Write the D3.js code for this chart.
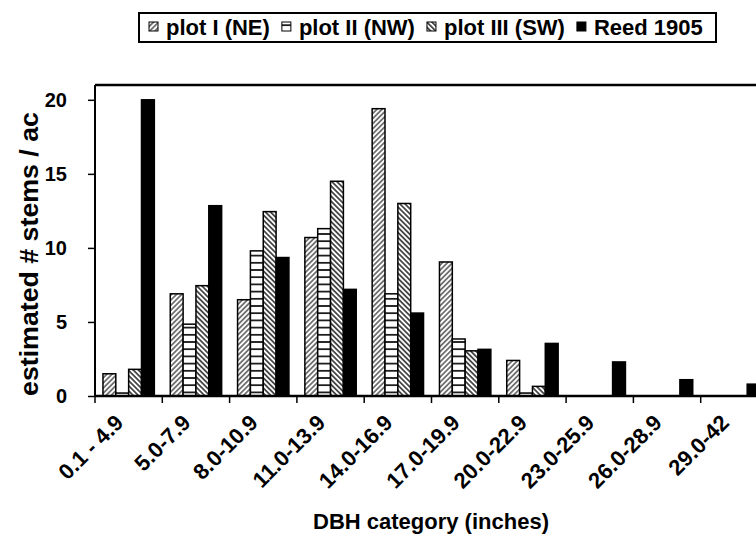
<!DOCTYPE html>
<html>
<head>
<meta charset="utf-8">
<script src="https://cdn.jsdelivr.net/npm/d3@7"></script>
<style>
  html, body { margin: 0; padding: 0; background: #fff; }
  svg { display: block; font-family: "Liberation Sans", Arial, sans-serif; font-weight: bold; }
</style>
</head>
<body>
<svg id="chart" width="756" height="537"></svg>
<script>
// DBH size classes (inches)
const categories = ["0.1 - 4.9", "5.0-7.9", "8.0-10.9", "11.0-13.9", "14.0-16.9",
                    "17.0-19.9", "20.0-22.9", "23.0-25.9", "26.0-28.9", "29.0-42"];
const seriesNames = ["plot I (NE)", "plot II (NW)", "plot III (SW)", "Reed 1905"];

// estimated stems per acre in each class
const plotI   = [1.5, 6.9, 6.5, 10.7, 19.4, 9.05, 2.4, 0, 0, 0];
const plotII  = [0.2, 4.85, 9.8, 11.3, 6.9, 3.85, 0.2, 0, 0, 0];
const plotIII = [1.8, 7.45, 12.45, 14.5, 13.0, 3.05, 0.65, 0, 0, 0];
const reed    = [20.0, 12.85, 9.35, 7.2, 5.6, 3.15, 3.55, 2.3, 1.1, 0.8];

const yTicks = [0, 5, 10, 15, 20];

const seriesValues = [plotI, plotII, plotIII, reed];
const fills = ["url(#hatchFwd)", "url(#hatchHoriz)", "url(#hatchBack)", "#000"];

const svg = d3.select("#chart");

// fill patterns
const defs = svg.append("defs");
function stripePattern(id, size, angle, color, width) {
  const p = defs.append("pattern")
    .attr("id", id).attr("patternUnits", "userSpaceOnUse")
    .attr("width", size).attr("height", size)
    .attr("patternTransform", `rotate(${angle})`);
  p.append("rect").attr("width", size).attr("height", size).attr("fill", "#fff");
  p.append("line").attr("x1", 0).attr("y1", size / 2).attr("x2", size).attr("y2", size / 2)
    .attr("stroke", color).attr("stroke-width", width);
}
stripePattern("hatchFwd", 3.6, -45, "#3a3a3a", 1.3);
stripePattern("hatchBack", 3.6, 45, "#222", 1.5);
stripePattern("hatchHoriz", 7.2, 0, "#000", 1.6);

const plotLeft = 95, plotRight = 768, plotTop = 85, plotBottom = 396;

const x = d3.scaleBand().domain(categories).range([plotLeft, plotRight]).paddingInner(0).paddingOuter(0);
const xs = d3.scaleBand().domain(d3.range(seriesNames.length))
  .range([0, x.bandwidth()]).paddingInner(0).paddingOuter(0.62);
const y = d3.scaleLinear().domain([0, 21]).range([plotBottom, plotTop]);

// bars
const groups = svg.append("g").selectAll("g")
  .data(seriesValues).join("g")
  .attr("fill", (d, i) => fills[i]);
groups.selectAll("rect")
  .data((vals, si) => vals.map((v, ci) => ({ v, ci, si })).filter(d => d.v > 0))
  .join("rect")
  .attr("x", d => x(categories[d.ci]) + xs(d.si))
  .attr("width", xs.bandwidth())
  .attr("y", d => y(d.v))
  .attr("height", d => y(0) - y(d.v))
  .attr("stroke", "#000")
  .attr("stroke-width", 1.5);

// frame: top edge of the plot area
svg.append("line")
  .attr("x1", plotLeft).attr("x2", plotRight).attr("y1", plotTop).attr("y2", plotTop)
  .attr("stroke", "#000").attr("stroke-width", 2.5);

// y axis
const yAxis = svg.append("g")
  .attr("transform", `translate(${plotLeft},0)`)
  .call(d3.axisLeft(y).tickValues(yTicks).tickSize(7).tickPadding(21).tickSizeOuter(0));
yAxis.select(".domain").attr("stroke-width", 2).attr("d", `M0,${plotTop}V${plotBottom}`);
yAxis.selectAll(".tick line").attr("stroke-width", 1.5);
yAxis.selectAll("text").attr("font-size", 20).attr("font-weight", "bold").attr("fill", "#000")
  .attr("font-family", "Liberation Sans, Arial, sans-serif");

// x axis: ticks on class boundaries
const boundaries = categories.map(c => x(c)).concat([plotRight]);
const xAxisG = svg.append("g");
xAxisG.append("line")
  .attr("x1", plotLeft).attr("x2", plotRight).attr("y1", plotBottom).attr("y2", plotBottom)
  .attr("stroke", "#000").attr("stroke-width", 2.5);
xAxisG.selectAll("line.tk").data(boundaries).join("line").attr("class", "tk")
  .attr("x1", d => d).attr("x2", d => d).attr("y1", plotBottom).attr("y2", plotBottom + 7)
  .attr("stroke", "#000").attr("stroke-width", 1.5);
xAxisG.selectAll("text").data(categories).join("text")
  .attr("transform", d => `translate(${x(d) + x.bandwidth() / 2 - 4},${plotBottom + 28}) rotate(-45)`)
  .attr("text-anchor", "end")
  .attr("font-size", 22)
  .text(d => d);

// axis titles
svg.append("text")
  .attr("x", 431).attr("y", 529)
  .attr("text-anchor", "middle").attr("font-size", 22)
  .text("DBH category (inches)");
svg.append("text")
  .attr("transform", "translate(38,254) rotate(-90)")
  .attr("text-anchor", "middle").attr("font-size", 26)
  .attr("textLength", 284).attr("lengthAdjust", "spacingAndGlyphs")
  .text("estimated # stems / ac");

// legend
const legend = svg.append("g");
legend.append("rect")
  .attr("x", 139).attr("y", 13).attr("width", 577).attr("height", 29)
  .attr("fill", "#fff").attr("stroke", "#000").attr("stroke-width", 2);
let lx = 149;
seriesNames.forEach((name, i) => {
  legend.append("rect")
    .attr("x", lx).attr("y", 22).attr("width", 9).attr("height", 9)
    .attr("fill", fills[i]).attr("stroke", "#000").attr("stroke-width", 1);
  const t = legend.append("text")
    .attr("x", lx + 17).attr("y", 35).attr("font-size", 22)
    .text(name);
  lx += 17 + t.node().getComputedTextLength() + 12;
});
</script>
</body>
</html>
